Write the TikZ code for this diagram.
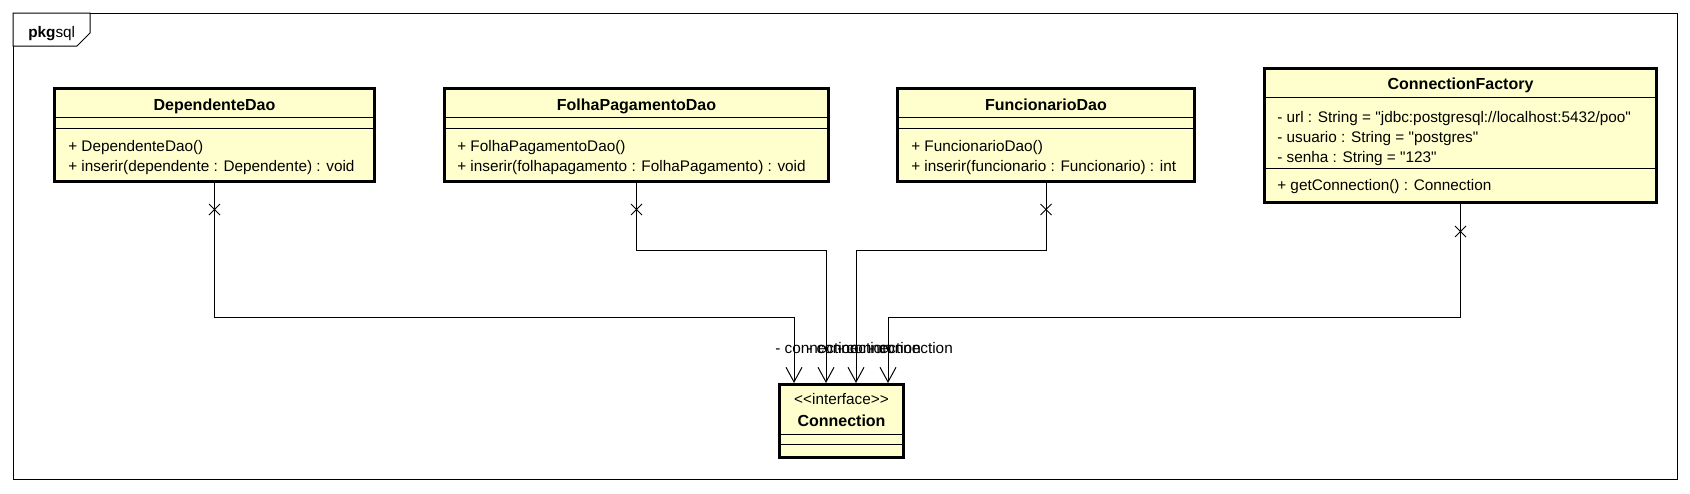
\documentclass[tikz,border=0pt]{standalone}
\usepackage{fontspec}
\setmainfont{Liberation Sans}[Ligatures=TeXOff]
\usetikzlibrary{arrows.meta,calc,shapes.misc}
\definecolor{umlfill}{RGB}{255,255,206}
\begin{document}
\begin{tikzpicture}[x=0.75pt,y=-0.75pt,
  cls/.style={draw=black, line width=2.25pt, fill=umlfill, rectangle, inner sep=0pt},
  sepline/.style={line width=0.75pt},
  txt/.style={inner sep=0pt, anchor=base west, font=\fontsize{11.5}{13}\selectfont},
  ttl/.style={inner sep=0pt, anchor=base, font=\fontsize{12}{14}\selectfont\bfseries},
  lbl/.style={inner sep=0pt, anchor=base west, font=\fontsize{11.5}{13}\selectfont},
  xmark/.style={cross out, draw=black, line width=0.75pt, minimum size=7.5pt, inner sep=0pt},
  assoc/.style={line width=0.75pt, -{Straight Barb[length=11pt,width=12pt]}},
  frame/.style={line width=0.75pt}
]
\useasboundingbox (0,0) rectangle (1690,493);
% package frame
\draw[frame] (13,13) rectangle (1677,479);
\draw[frame, fill=white] (13,13) -- (90,13) -- (90,33) -- (77,46) -- (13,46) -- cycle;
\node[txt] (pkg) at (28,37) {\textbf{pkg}sql};

% DependenteDao
\node[cls, minimum width=320*0.75pt, minimum height=93*0.75pt] (dep) at (214.5,135) {};
\draw[sepline] (dep.west |- 0,117) -- (dep.east |- 0,117);
\draw[sepline] (dep.west |- 0,128) -- (dep.east |- 0,128);
\node[ttl] (depT) at (214.5,110) {DependenteDao};
\node[txt] (depM1) at (68,151) {+ DependenteDao()};
\node[txt] (depM2) at (68,171) {+ inserir(dependente : Dependente) : void};

% FolhaPagamentoDao
\node[cls, minimum width=384*0.75pt, minimum height=93*0.75pt] (folha) at (636.5,135) {};
\draw[sepline] (folha.west |- 0,117) -- (folha.east |- 0,117);
\draw[sepline] (folha.west |- 0,128) -- (folha.east |- 0,128);
\node[ttl] (folhaT) at (636.5,110) {FolhaPagamentoDao};
\node[txt] (folhaM1) at (457,151) {+ FolhaPagamentoDao()};
\node[txt] (folhaM2) at (457,171) {+ inserir(folhapagamento : FolhaPagamento) : void};

% FuncionarioDao
\node[cls, minimum width=297*0.75pt, minimum height=93*0.75pt] (func) at (1046,135) {};
\draw[sepline] (func.west |- 0,117) -- (func.east |- 0,117);
\draw[sepline] (func.west |- 0,128) -- (func.east |- 0,128);
\node[ttl] (funcT) at (1046,110) {FuncionarioDao};
\node[txt] (funcM1) at (911,151) {+ FuncionarioDao()};
\node[txt] (funcM2) at (911,171) {+ inserir(funcionario : Funcionario) : int};

% ConnectionFactory
\node[cls, minimum width=392*0.75pt, minimum height=134*0.75pt] (cf) at (1460.5,135.5) {};
\draw[sepline] (cf.west |- 0,97) -- (cf.east |- 0,97);
\draw[sepline] (cf.west |- 0,168) -- (cf.east |- 0,168);
\node[ttl] (cfT) at (1460.5,89) {ConnectionFactory};
\node[txt] (cfA1) at (1277,122) {- url : String = "jdbc:postgresql://localhost:5432/poo"};
\node[txt] (cfA2) at (1277,142) {- usuario : String = "postgres"};
\node[txt] (cfA3) at (1277,162) {- senha : String = "123"};
\node[txt] (cfM1) at (1277,190) {+ getConnection() : Connection};

% Connection interface
\node[cls, minimum width=124*0.75pt, minimum height=73*0.75pt] (conn) at (841.5,421) {};
\draw[sepline] (conn.west |- 0,434) -- (conn.east |- 0,434);
\draw[sepline] (conn.west |- 0,444) -- (conn.east |- 0,444);
\node[inner sep=0pt, anchor=base, font=\fontsize{11.5}{13}\selectfont] (connS) at (841.5,404) {<<interface>>};
\node[ttl] (connT) at (841.5,426) {Connection};

% associations
\draw[assoc] (dep.south) -- ++(0,134.5) -| ($(conn.north)+(-47.5,0)$);
\draw[assoc] (folha.south) -- ++(0,67.5) -| ($(conn.north)+(-15.5,0)$);
\draw[assoc] (func.south) -- ++(0,67.5) -| ($(conn.north)+(14.5,0)$);
\draw[assoc] (cf.south) -- ++(0,113.5) -| ($(conn.north)+(46.5,0)$);

% non-navigable ends
\node[xmark] (xdep) at ($(dep.south)+(0,26.5)$) {};
\node[xmark] (xfolha) at ($(folha.south)+(0,26.5)$) {};
\node[xmark] (xfunc) at ($(func.south)+(0,26.5)$) {};
\node[xmark] (xcf) at ($(cf.south)+(0,27.5)$) {};

% role labels
\node[lbl] (l1) at ($(conn.north)+(-66.5,-29.5)$) {- connection};
\node[lbl] (l2) at ($(conn.north)+(-34.5,-29.5)$) {- connection};
\node[lbl] (l3) at ($(conn.north)+(-4.5,-29.5)$) {- connection};
\node[lbl] (l4) at ($(conn.north)+(27.5,-29.5)$) {- connection};
\end{tikzpicture}
\end{document}
